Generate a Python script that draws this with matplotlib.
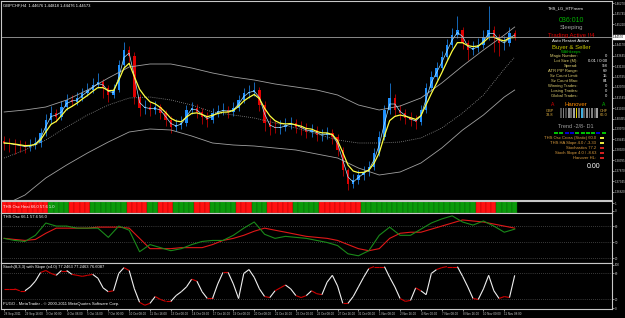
import numpy as np
import pandas as pd
import matplotlib
matplotlib.use("Agg")
from matplotlib import pyplot as plt
from matplotlib.collections import LineCollection
from matplotlib.patches import Rectangle

plt.rcParams["font.family"] = ["Liberation Sans", "DejaVu Sans"]

W, H = 625, 318

# GBPCHF H4 - one drawn bar per two H4 candles
first_open = 1.3935
closes = [1.3927, 1.3922, 1.3917, 1.3912, 1.3907, 1.3917, 1.3927, 1.3977, 1.4042, 1.4077,
          1.4057, 1.4107, 1.4142, 1.4132, 1.4152, 1.4177, 1.4192, 1.4217, 1.4232, 1.4202,
          1.4167, 1.4192, 1.4317, 1.4392, 1.4362, 1.4157, 1.4102, 1.4107, 1.4092, 1.4107,
          1.4077, 1.4042, 1.4007, 1.4017, 1.4027, 1.4092, 1.4102, 1.4082, 1.4057, 1.4042,
          1.4077, 1.4087, 1.4092, 1.4082, 1.4102, 1.4142, 1.4177, 1.4182, 1.4192, 1.4117,
          1.4027, 1.4007, 1.4002, 1.4007, 1.4017, 1.4027, 1.4007, 1.4002, 1.3982, 1.3992,
          1.3967, 1.3967, 1.3977, 1.3957, 1.3892, 1.3792, 1.3722, 1.3742, 1.3767, 1.3782,
          1.3807, 1.3877, 1.3957, 1.4092, 1.4152, 1.4092, 1.4077, 1.4052, 1.4042, 1.4032,
          1.4092, 1.4202, 1.4257, 1.4302, 1.4357, 1.4417, 1.4467, 1.4492, 1.4427, 1.4392,
          1.4402, 1.4417, 1.4457, 1.4492, 1.4457, 1.4427, 1.4427, 1.4477, 1.4457]
highs = [1.3960, 1.3950, 1.3945, 1.3940, 1.3935, 1.3945, 1.3955, 1.4000, 1.4070, 1.4110,
         1.4095, 1.4135, 1.4170, 1.4165, 1.4180, 1.4200, 1.4225, 1.4250, 1.4275, 1.4245,
         1.4215, 1.4220, 1.4340, 1.4430, 1.4410, 1.4380, 1.4170, 1.4140, 1.4130, 1.4135,
         1.4120, 1.4090, 1.4060, 1.4045, 1.4060, 1.4115, 1.4130, 1.4120, 1.4100, 1.4080,
         1.4100, 1.4115, 1.4125, 1.4110, 1.4130, 1.4165, 1.4200, 1.4215, 1.4230, 1.4205,
         1.4135, 1.4050, 1.4035, 1.4040, 1.4050, 1.4055, 1.4045, 1.4035, 1.4025, 1.4020,
         1.4010, 1.3995, 1.4005, 1.3995, 1.3970, 1.3905, 1.3800, 1.3770, 1.3790, 1.3810,
         1.3835, 1.3900, 1.3985, 1.4115, 1.4225, 1.4170, 1.4115, 1.4095, 1.4080, 1.4065,
         1.4115, 1.4225, 1.4285, 1.4330, 1.4385, 1.4445, 1.4500, 1.4560, 1.4505, 1.4440,
         1.4435, 1.4450, 1.4490, 1.4610, 1.4510, 1.4470, 1.4460, 1.4505, 1.4490]
lows = [1.3890, 1.3880, 1.3870, 1.3880, 1.3875, 1.3885, 1.3895, 1.3905, 1.3960, 1.4020,
        1.4030, 1.4040, 1.4090, 1.4110, 1.4115, 1.4135, 1.4160, 1.4175, 1.4200, 1.4150,
        1.4130, 1.4150, 1.4180, 1.4300, 1.4330, 1.4120, 1.4060, 1.4070, 1.4060, 1.4070,
        1.4045, 1.4010, 1.3975, 1.3985, 1.3995, 1.4010, 1.4070, 1.4050, 1.4020, 1.4005,
        1.4025, 1.4055, 1.4065, 1.4050, 1.4060, 1.4085, 1.4125, 1.4150, 1.4160, 1.4085,
        1.3985, 1.3965, 1.3975, 1.3970, 1.3985, 1.3995, 1.3975, 1.3965, 1.3950, 1.3955,
        1.3935, 1.3935, 1.3945, 1.3920, 1.3860, 1.3760, 1.3690, 1.3700, 1.3720, 1.3740,
        1.3760, 1.3790, 1.3860, 1.3940, 1.4070, 1.4060, 1.4040, 1.4020, 1.4010, 1.3995,
        1.4015, 1.4075, 1.4185, 1.4240, 1.4285, 1.4340, 1.4400, 1.4450, 1.4395, 1.4340,
        1.4365, 1.4380, 1.4400, 1.4440, 1.4380, 1.4360, 1.4390, 1.4410, 1.4440]

# envelope bands, read at every 4th bar
band_bars = [0, 4, 8, 12, 16, 20, 24, 28, 32, 36, 40, 44, 48, 52, 56, 60, 64, 68, 72,
             76, 80, 84, 88, 92, 96, 98]
band_upper = [1.4082, 1.4092, 1.4107, 1.4142, 1.4192, 1.4252, 1.4307, 1.4322, 1.4322,
              1.4302, 1.4277, 1.4257, 1.4242, 1.4222, 1.4207, 1.4192, 1.4167, 1.4117,
              1.4092, 1.4112, 1.4152, 1.4227, 1.4312, 1.4392, 1.4467, 1.4507]
band_mid = [1.3852, 1.3892, 1.3942, 1.4007, 1.4067, 1.4117, 1.4152, 1.4157, 1.4142,
            1.4117, 1.4082, 1.4067, 1.4052, 1.4027, 1.4002, 1.3972, 1.3942, 1.3927,
            1.3927, 1.3932, 1.3952, 1.4002, 1.4077, 1.4167, 1.4297, 1.4357]
band_lower = [1.3617, 1.3667, 1.3752, 1.3817, 1.3877, 1.3932, 1.3982, 1.3997, 1.3992,
              1.3962, 1.3927, 1.3917, 1.3912, 1.3902, 1.3892, 1.3872, 1.3852, 1.3802,
              1.3767, 1.3782, 1.3827, 1.3902, 1.3992, 1.4067, 1.4157, 1.4192]

# THS Osc Heat, one letter per bar (R = red, G = green)
heat = ("RRRRRRRRRGGGGRRRRGGGGGGGRRRRGGRRRGGGGRRRGGGGGRRRGGGRRRRRGGGGG"
        "RRRRRRRRGGGGGGGGGGGGGGGGGGGGGGRRRRGGGG")

# THS Osc, read at every 2nd bar
osc_fast = [57.1, 53.2, 51.3, 62.9, 86.1, 80.3, 80.3, 76.4, 76.4, 76.4,
            59.0, 80.3, 72.5, 31.9, 45.4, 39.6, 33.8, 37.7, 45.4, 51.3,
            53.2, 53.2, 62.9, 76.4, 88.0, 64.8, 57.1, 60.9, 59.0, 57.1,
            53.2, 49.3, 43.5, 28.0, 24.2, 33.8, 62.9, 78.3, 62.9, 62.9,
            74.5, 86.1, 93.8, 99.6, 88.0, 82.2, 89.9, 80.3, 68.7, 74.5]
osc_slow = [57.1, 55.1, 53.2, 55.1, 66.7, 76.4, 76.4, 76.4, 76.4, 78.3,
            78.3, 78.3, 76.4, 57.1, 37.7, 37.7, 37.7, 39.6, 39.6, 39.6,
            45.4, 53.2, 57.1, 62.9, 70.6, 76.4, 72.5, 68.7, 64.8, 60.9,
            59.0, 57.1, 53.2, 45.4, 37.7, 33.8, 37.7, 57.1, 66.7, 68.7,
            68.7, 74.5, 80.3, 86.1, 91.9, 89.9, 88.0, 84.1, 80.3, 76.4]

# Stoch(8,3,3), one value per bar
stoch = [44.4, 44.4, 44.4, 40.0, 40.0, 48.9, 62.2, 82.2, 86.7, 80.0,
         75.6, 86.7, 86.7, 77.8, 75.6, 73.3, 75.6, 77.8, 68.9, 46.7,
         37.8, 40.0, 80.0, 93.3, 86.7, 44.4, 13.3, 6.7, 11.1, 26.7,
         20.0, 15.6, 15.6, 28.9, 37.8, 48.9, 66.7, 62.2, 37.8, 22.2,
         22.2, 55.6, 82.2, 82.2, 55.6, 22.2, 80.0, 88.9, 71.1, 44.4,
         26.7, 24.4, 40.0, 46.7, 53.3, 44.4, 28.9, 24.4, 28.9, 40.0,
         33.3, 31.1, 60.0, 75.6, 51.1, 11.1, 11.1, 26.7, 48.9, 71.1,
         91.1, 95.6, 95.6, 95.6, 71.1, 48.9, 22.2, 15.6, 17.8, 46.7,
         40.0, 31.1, 80.0, 88.9, 93.3, 95.6, 95.6, 95.6, 73.3, 48.9,
         22.2, 20.0, 44.4, 75.6, 40.0, 22.2, 26.7, 24.4, 75.6]

time_labels = ["28 Sep 2011", "29 Sep 16:00", "3 Oct 00:00", "4 Oct 08:00", "5 Oct 16:00",
               "7 Oct 00:00", "10 Oct 08:00", "11 Oct 16:00", "13 Oct 00:00", "14 Oct 08:00",
               "17 Oct 16:00", "19 Oct 00:00", "20 Oct 08:00", "21 Oct 16:00", "25 Oct 00:00",
               "26 Oct 08:00", "27 Oct 16:00", "31 Oct 00:00", "1 Nov 08:00", "2 Nov 16:00",
               "4 Nov 00:00", "7 Nov 08:00", "8 Nov 16:00", "10 Nov 00:00", "11 Nov 08:00"]

FG = "#c8c8c8"
FS = 3.0     # panel captions
TS = 2.2     # axis tick labels

fig = plt.figure(figsize=(W / 100, H / 100), dpi=100)
fig.patch.set_facecolor("black")


def fx(px):
    return px / W


def fy(py):
    return 1 - py / H


def panel(top, bottom):
    ax = fig.add_axes([fx(1), fy(bottom), fx(611), (bottom - top) / H])
    ax.set_facecolor("black")
    for s in ax.spines.values():
        s.set_color(FG)
        s.set_linewidth(0.8)
    ax.yaxis.tick_right()
    ax.tick_params(axis="y", labelsize=TS, colors=FG, length=1.2, width=0.5, pad=0.8)
    ax.tick_params(axis="x", bottom=False, labelbottom=False)
    ax.set_xlim(-0.6, 611 / 5.21 - 0.6)
    return ax


x = np.arange(len(closes))
c = np.array(closes)
o = np.r_[first_open, c[:-1]]
up = c >= o
bar_col = np.where(up, "#1e90ff", "#e00000")

# ---- main price window
ax = panel(1, 200)
ax.set_ylim(1.3642, 1.4637)
price_ticks = np.arange(1.4627, 1.3645, -0.00525)
# the bid label box hides the grid label next to it, as in the terminal
price_ticks = price_ticks[np.abs(price_ticks - c[-1]) > 0.003]
ax.set_yticks(price_ticks)
ax.yaxis.set_major_formatter(plt.FormatStrFormatter("%.5f"))
ax.vlines(x, lows, highs, colors=bar_col, lw=0.5)
ax.bar(x, np.maximum(np.abs(c - o), 0.0002), bottom=np.minimum(o, c), width=0.45,
       color=bar_col, lw=0)
ax.plot(band_bars, band_upper, color="#a0a0a0", lw=0.6)
ax.plot(band_bars, band_mid, color="#909090", lw=0.6, ls=(0, (1, 1.5)))
ax.plot(band_bars, band_lower, color="#a0a0a0", lw=0.6)
ax.plot(x, pd.Series(c).rolling(2, min_periods=1).mean(), color="#a8e4ff", lw=0.5)
ax.plot(x, pd.Series(c).ewm(span=4, adjust=False).mean(), color="#ffff40", lw=0.9)
ax.axhline(c[-1], color="#a0a0a0", lw=0.6)
ax.text(1.002, c[-1], "%.5f" % c[-1], transform=ax.get_yaxis_transform(), fontsize=TS,
        color="black", va="center", ha="left",
        bbox=dict(boxstyle="square,pad=0.15", fc="white", ec="white"))
ax.text(0.004, 0.985, "GBPCHF,H4  1.44676 1.44818 1.44476 1.44573", transform=ax.transAxes,
        fontsize=FS, color="white", va="top")

# ---- heat strip
axh = panel(201, 213)
axh.set_ylim(0, 1)
axh.set_yticks([0.8, 0.2])
axh.set_yticklabels(["1", "0"])
heat_col = ["#ff1010" if h == "R" else "#0a9a0a" for h in heat]
heat_edge = ["#b00000" if h == "R" else "#066006" for h in heat]
axh.bar(x, 1, width=1.0, bottom=0, color=heat_col, edgecolor=heat_edge, lw=0.3)
axh.text(0.004, 0.5, "THS Osc Heat 66.0 57.6 1.0", transform=axh.transAxes,
         fontsize=FS, color="white", va="center")

# ---- THS Osc
axo = panel(213, 263)
axo.set_ylim(10.6, 105)
axo.set_yticks([20, 50, 80])
for lv in [20, 50, 80]:
    axo.axhline(lv, color="#707070", lw=0.5, ls=(0, (1, 2)))
osc_x = x[::2]
axo.plot(osc_x, osc_slow, color="#e01818", lw=0.8)
axo.plot(osc_x, osc_fast, color="#1a8a1a", lw=0.8)
axo.text(0.004, 0.96, "THS Osc 66.1 57.6 56.0", transform=axo.transAxes,
         fontsize=FS, color="white", va="top")

# ---- Stochastic with slope colouring
axs = panel(263, 309)
axs.set_ylim(-2, 104)
axs.set_yticks([0, 20, 80, 100])
for lv in [20, 80]:
    axs.axhline(lv, color="#707070", lw=0.5, ls=(0, (1, 2)))
st = np.array(stoch)
pts = np.column_stack([x, st])
segs = np.stack([pts[:-1], pts[1:]], axis=1)
seg_col = ["#d00000" if abs(d) < 8 else "#f0f0f0" for d in np.diff(st)]
axs.add_collection(LineCollection(segs, colors=seg_col, linewidths=0.8))
axs.text(0.004, 0.96, "Stoch(8,3,3) with Slope (±4.0) 77.2463 77.2463 76.6087",
         transform=axs.transAxes, fontsize=FS, color="white", va="top")
axs.text(0.004, 0.06, "FUGO - MetaTrader - © 2000-2011 MetaQuotes Software Corp.",
         transform=axs.transAxes, fontsize=FS, color="white", va="bottom")
axs.set_xticks(np.arange(len(time_labels)) * 4)
axs.set_xticklabels(time_labels, ha="left")
axs.tick_params(axis="x", bottom=True, labelbottom=True, labelsize=TS, colors=FG,
                length=1.5, width=0.5, pad=0.8)

# ---- expert advisor info panel (right side of main window)
info_top = [("THS_LG_HTFream", 566, 8, "white", 3.0),
            ("036:010", 571, 20, "#00b000", 5.0),
            ("Sleeping", 571, 28, "#a0a0a0", 4.3),
            ("Trading Active !!4", 571, 36, "#e00000", 4.3),
            ("Auto Restart Active", 571, 41, "white", 3.2),
            ("Buyer & Seller", 571, 47, "#c8c800", 4.3),
            ("Wdthkeeps", 571, 52, "#00c000", 3.0)]
for txt, px, py, col, fs in info_top:
    fig.text(fx(px), fy(py), txt, ha="center", va="center", fontsize=fs, color=col)

info_names = ["Magic Number:", "Lot Size (M):", "Spread:", "ATR PIP Range:",
              "Sz Count Limit:", "Sz Count Max:", "Winning Trades:", "Losing Trades:",
              "Global Trades:"]
info_values = ["0", "0.01 / 0.00", "9.8", "69", "15", "84", "0", "0", "0"]
for i, (nm, val) in enumerate(zip(info_names, info_values)):
    fig.text(fx(578), fy(56 + 5 * i), nm, ha="right", va="center", fontsize=3.0,
             color="#e0d070")
    fig.text(fx(607), fy(56 + 5 * i), val, ha="right", va="center", fontsize=3.0,
             color="white")

fig.text(fx(553), fy(105), "A", ha="center", va="center", fontsize=3.6, color="#e00000")
fig.text(fx(604), fy(105), "A", ha="center", va="center", fontsize=3.6, color="#00c000")
fig.text(fx(576), fy(105), "Hanover", ha="center", va="center", fontsize=4.3,
         color="#ff8c00")
fig.text(fx(550), fy(113), "GBP\n33.8", ha="center", va="center", fontsize=2.8,
         color="#e0b040", linespacing=1.0)
fig.text(fx(604), fy(113), "CHF\n66.0", ha="center", va="center", fontsize=2.8,
         color="#e0b040", linespacing=1.0)

hanover_strip = ["#505050", "#808080", "#404040", "#909090", "#606060", "#a0a0a0",
                 "#e0d000", "#707070", "#40b0e0", "#505050", "#909090", "#606060",
                 "#808080", "#404040", "#a0a0a0"]
for i, col in enumerate(hanover_strip):
    fig.patches.append(Rectangle((fx(560 + 2.6 * i), fy(118)), 1.8 / W, 10 / H,
                                 transform=fig.transFigure, color=col, lw=0))

fig.text(fx(576), fy(127), "Trend -2/8- D1", ha="center", va="center", fontsize=4.0,
         color="#a0a0a0")
trend_boxes = ["#00c000", "#00c000", "#0000d0", "#0000d0", "#00c000", "#00c000",
               "#00c000", "#00c000", "#0000d0", "#00c000"]
for i, col in enumerate(trend_boxes):
    fig.patches.append(Rectangle((fx(554 + 5.3 * i), fy(134)), 4 / W, 2.2 / H,
                                 transform=fig.transFigure, color=col, lw=0))

signal_names = ["THS Osc Cross (Static) 60.0", "THS HA Slope 4.0 / -3.33",
                "Stochastics 77.2", "Stoch Slope 4.0 / -8.63", "Hanover HL:"]
signal_cols = ["#e8e840", "#e8e840", "#d02020", "#d02020", "#d02020"]
for i, (nm, col) in enumerate(zip(signal_names, signal_cols)):
    fig.text(fx(596), fy(138 + 5 * i), nm, ha="right", va="center", fontsize=3.0,
             color="#e0a040")
    fig.patches.append(Rectangle((fx(600), fy(139 + 5 * i)), 4 / W, 2 / H,
                                 transform=fig.transFigure, color=col, lw=0))
fig.text(fx(594), fy(167), "0.00", ha="center", va="center", fontsize=5.0, color="white")

fig.savefig("out.png", dpi=100, facecolor="black")
